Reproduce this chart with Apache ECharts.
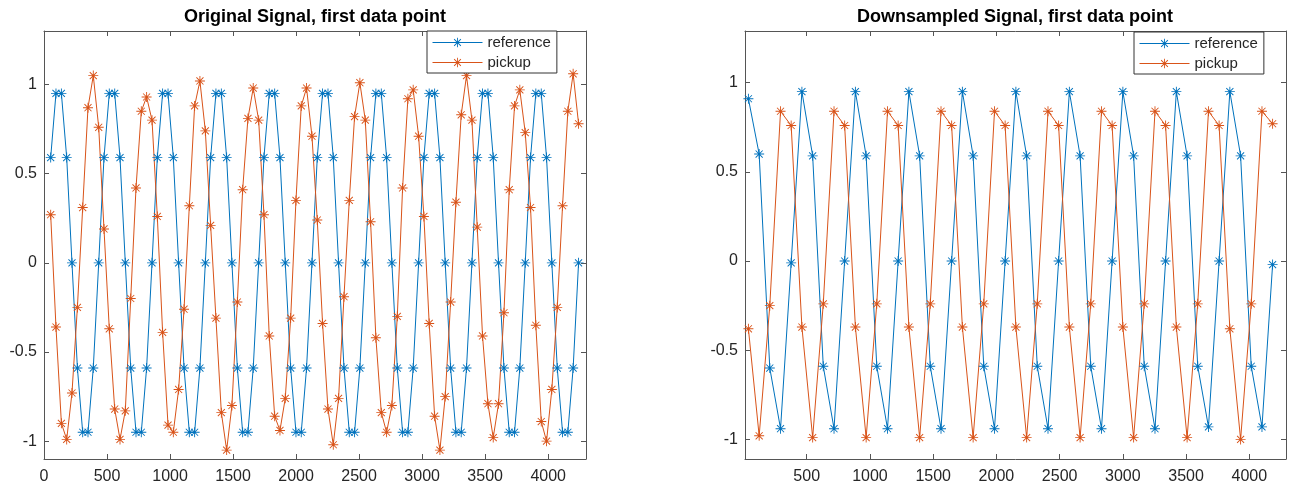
<!DOCTYPE html>
<html>
<head>
<meta charset="utf-8">
<script src="https://cdn.jsdelivr.net/npm/echarts@6/dist/echarts.min.js"></script>
<style>
html,body{margin:0;padding:0;background:#fff;}
#chart{width:1293px;height:489px;}
</style>
</head>
<body>
<div id="chart"></div>
<script>
// ---- Data: left plot (original signal) ----
const xLeft = [
  53, 95, 138, 180, 222, 265, 307, 349, 391, 434,
  476, 518, 561, 603, 645, 688, 730, 772, 814, 857,
  899, 941, 984, 1026, 1068, 1111, 1153, 1195, 1237, 1280,
  1322, 1364, 1407, 1449, 1491, 1534, 1576, 1618, 1660, 1703,
  1745, 1787, 1830, 1872, 1914, 1957, 1999, 2041, 2083, 2126,
  2168, 2210, 2253, 2295, 2337, 2380, 2422, 2464, 2506, 2549,
  2591, 2633, 2676, 2718, 2760, 2803, 2845, 2887, 2929, 2972,
  3014, 3056, 3099, 3141, 3183, 3226, 3268, 3310, 3352, 3395,
  3437, 3479, 3522, 3564, 3606, 3649, 3691, 3733, 3775, 3818,
  3860, 3902, 3945, 3987, 4029, 4072, 4114, 4156, 4198, 4241
];
const refLeft = [
  0.59, 0.95, 0.95, 0.59, 0, -0.59, -0.95, -0.95, -0.59, 0,
  0.59, 0.95, 0.95, 0.59, 0, -0.59, -0.95, -0.95, -0.59, 0,
  0.59, 0.95, 0.95, 0.59, 0, -0.59, -0.95, -0.95, -0.59, 0,
  0.59, 0.95, 0.95, 0.59, 0, -0.59, -0.95, -0.95, -0.59, 0,
  0.59, 0.95, 0.95, 0.59, 0, -0.59, -0.95, -0.95, -0.59, 0,
  0.59, 0.95, 0.95, 0.59, 0, -0.59, -0.95, -0.95, -0.59, 0,
  0.59, 0.95, 0.95, 0.59, 0, -0.59, -0.95, -0.95, -0.59, 0,
  0.59, 0.95, 0.95, 0.59, 0, -0.59, -0.95, -0.95, -0.59, 0,
  0.59, 0.95, 0.95, 0.59, 0, -0.59, -0.95, -0.95, -0.59, 0,
  0.59, 0.95, 0.95, 0.59, 0, -0.59, -0.95, -0.95, -0.59, 0
];
const pickLeft = [
  0.27, -0.36, -0.90, -0.99, -0.73, -0.25, 0.31, 0.87, 1.05, 0.76,
  0.19, -0.37, -0.82, -0.99, -0.83, -0.20, 0.42, 0.85, 0.93, 0.80,
  0.26, -0.39, -0.91, -0.95, -0.71, -0.26, 0.32, 0.88, 1.02, 0.74,
  0.21, -0.31, -0.84, -1.05, -0.80, -0.22, 0.41, 0.81, 0.98, 0.80,
  0.27, -0.41, -0.86, -0.94, -0.76, -0.31, 0.35, 0.88, 0.98, 0.71,
  0.24, -0.34, -0.82, -1.02, -0.76, -0.19, 0.35, 0.82, 1.01, 0.80,
  0.23, -0.42, -0.84, -0.95, -0.80, -0.30, 0.42, 0.92, 0.97, 0.71,
  0.26, -0.34, -0.86, -1.05, -0.75, -0.22, 0.34, 0.83, 1.05, 0.80,
  0.20, -0.41, -0.79, -0.98, -0.79, -0.28, 0.41, 0.88, 0.97, 0.73,
  0.31, -0.35, -0.89, -1.00, -0.71, -0.25, 0.32, 0.85, 1.06, 0.78
];

// ---- Data: right plot (downsampled signal) ----
const xRight = [
  39, 124, 208, 293, 377,
  462, 547, 631, 716, 800,
  885, 970, 1054, 1139, 1223,
  1308, 1393, 1477, 1562, 1646,
  1731, 1816, 1900, 1985, 2069,
  2154, 2239, 2323, 2408, 2492,
  2577, 2662, 2746, 2831, 2915,
  3000, 3085, 3169, 3254, 3338,
  3423, 3508, 3592, 3677, 3761,
  3846, 3931, 4015, 4100, 4184
];
const refRight = [
  0.91, 0.60, -0.60, -0.94, -0.01,
  0.95, 0.59, -0.59, -0.94, 0,
  0.95, 0.59, -0.59, -0.94, 0,
  0.95, 0.59, -0.59, -0.94, 0,
  0.95, 0.59, -0.59, -0.94, 0,
  0.95, 0.59, -0.59, -0.94, 0,
  0.95, 0.59, -0.59, -0.94, 0,
  0.95, 0.59, -0.59, -0.94, 0,
  0.95, 0.59, -0.59, -0.93, 0,
  0.95, 0.59, -0.59, -0.93, -0.02
];
const pickRight = [
  -0.38, -0.98, -0.25, 0.84, 0.76,
  -0.37, -0.99, -0.24, 0.84, 0.76,
  -0.37, -0.99, -0.24, 0.84, 0.76,
  -0.37, -0.99, -0.24, 0.84, 0.76,
  -0.37, -0.99, -0.24, 0.84, 0.76,
  -0.37, -0.99, -0.24, 0.84, 0.76,
  -0.37, -0.99, -0.24, 0.84, 0.76,
  -0.37, -0.99, -0.24, 0.84, 0.76,
  -0.37, -0.99, -0.24, 0.84, 0.76,
  -0.38, -1.00, -0.24, 0.84, 0.77
];

// ---- Axes / labels ----
const xTicks = [0, 500, 1000, 1500, 2000, 2500, 3000, 3500, 4000];
const yTicks = [-1, -0.5, 0, 0.5, 1];
const titles = ['Original Signal, first data point', 'Downsampled Signal, first data point'];
const seriesNames = ['reference', 'pickup'];

const BLUE = '#0072BD';
const ORANGE = '#D95319';
const AX = '#555555';
const TXT = '#262626';
const FONT = '"Liberation Sans", Arial, Helvetica, sans-serif';

// asterisk marker (plus + cross), drawn as filled thin bars
const STAR = 'path://M-0.9,-10L0.9,-10L0.9,10L-0.9,10Z' +
  'M-10,-0.9L10,-0.9L10,0.9L-10,0.9Z' +
  'M-6.4,-7.7L7.7,6.4L6.4,7.7L-7.7,-6.4Z' +
  'M6.4,-7.7L7.7,-6.4L-6.4,7.7L-7.7,6.4Z';

function pairs(xs, ys) { return xs.map((x, i) => [x, ys[i]]); }
function plain(v) { return String(v); }

const grids = [
  { left: 44, top: 31, width: 542, height: 428 },
  { left: 745, top: 31, width: 541, height: 428 }
];
const xRanges = [[0, 4300], [12, 4290]];
const yRanges = [[-1.1, 1.3], [-1.11, 1.29]];

const xAxes = [], yAxes = [];
grids.forEach((g, gi) => {
  const common = { gridIndex: gi, splitLine: { show: false } };
  xAxes.push(Object.assign({}, common, {
    type: 'value', position: 'bottom', min: xRanges[gi][0], max: xRanges[gi][1],
    axisLine: { show: true, onZero: false, lineStyle: { color: AX, width: 1 } },
    axisTick: { show: true, inside: true, length: 5, customValues: xTicks, lineStyle: { color: AX } },
    axisLabel: { show: true, customValues: xTicks, formatter: plain, margin: 10, color: TXT, fontSize: 16, fontFamily: FONT }
  }));
  xAxes.push(Object.assign({}, common, {
    type: 'value', position: 'top', min: xRanges[gi][0], max: xRanges[gi][1],
    axisLine: { show: true, onZero: false, lineStyle: { color: AX, width: 1 } },
    axisTick: { show: true, inside: true, length: 5, customValues: xTicks, lineStyle: { color: AX } },
    axisLabel: { show: false }
  }));
  yAxes.push(Object.assign({}, common, {
    type: 'value', position: 'left', min: yRanges[gi][0], max: yRanges[gi][1],
    axisLine: { show: true, onZero: false, lineStyle: { color: AX, width: 1 } },
    axisTick: { show: true, inside: true, length: 5, customValues: yTicks, lineStyle: { color: AX } },
    axisLabel: { show: true, customValues: yTicks, formatter: plain, margin: 7, color: TXT, fontSize: 16, fontFamily: FONT }
  }));
  yAxes.push(Object.assign({}, common, {
    type: 'value', position: 'right', min: yRanges[gi][0], max: yRanges[gi][1],
    axisLine: { show: true, onZero: false, lineStyle: { color: AX, width: 1 } },
    axisTick: { show: true, inside: true, length: 5, customValues: yTicks, lineStyle: { color: AX } },
    axisLabel: { show: false }
  }));
});

function mkSeries(name, color, data, gi) {
  return {
    name: name, type: 'line', data: data,
    xAxisIndex: gi * 2, yAxisIndex: gi * 2,
    symbol: STAR, symbolSize: 10, showSymbol: true,
    lineStyle: { color: color, width: 1 },
    itemStyle: { color: color },
    emphasis: { disabled: true },
    animation: false, z: 3
  };
}

const series = [
  mkSeries(seriesNames[0], BLUE, pairs(xLeft, refLeft), 0),
  mkSeries(seriesNames[1], ORANGE, pairs(xLeft, pickLeft), 0),
  mkSeries(seriesNames[0], BLUE, pairs(xRight, refRight), 1),
  mkSeries(seriesNames[1], ORANGE, pairs(xRight, pickRight), 1)
];

const legendCommon = {
  orient: 'vertical', data: seriesNames,
  itemWidth: 50, itemHeight: 12, itemGap: 5,
  padding: [4, 6, 3, 5],
  backgroundColor: '#ffffff', borderColor: '#333333', borderWidth: 1, borderRadius: 0,
  lineStyle: { width: 1 },
  textStyle: { fontSize: 15, color: TXT, fontFamily: FONT },
  selectedMode: false, z: 10
};

const option = {
  backgroundColor: '#ffffff',
  animation: false,
  title: [
    { text: titles[0], left: 315, top: 8, textAlign: 'center', padding: 0,
      textStyle: { fontSize: 18, fontWeight: 'bold', color: '#000', fontFamily: FONT } },
    { text: titles[1], left: 1015, top: 8, textAlign: 'center', padding: 0,
      textStyle: { fontSize: 18, fontWeight: 'bold', color: '#000', fontFamily: FONT } }
  ],
  legend: [
    Object.assign({}, legendCommon, { left: 427, top: 31 }),
    Object.assign({}, legendCommon, { left: 1134, top: 32 })
  ],
  grid: grids,
  xAxis: xAxes,
  yAxis: yAxes,
  series: series
};

const chart = echarts.init(document.getElementById('chart'), null, { renderer: 'canvas' });
chart.setOption(option);
</script>
</body>
</html>
